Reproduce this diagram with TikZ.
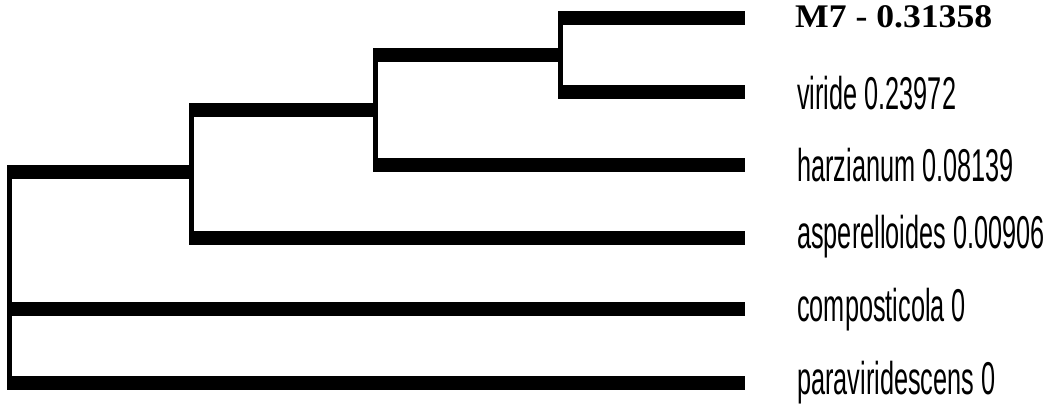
\documentclass[tikz,border=0pt]{standalone}
\usepackage{fontspec}
\usetikzlibrary{calc}
\newfontfamily\condfont[FakeStretch=0.55]{Liberation Sans}
\newfontfamily\wideserif[FakeStretch=1.08]{Liberation Serif}
\tikzset{
  hbar/.style={line width=14pt, line cap=butt, draw=black},
  vbar/.style={line width=5pt, line cap=butt, draw=black},
  lab/.style={anchor=west, inner sep=0pt, font=\condfont\fontsize{46}{48}\selectfont},
  labm/.style={anchor=west, inner sep=0pt, font=\wideserif\bfseries\fontsize{33}{36}\selectfont}
}
\begin{document}
\begin{tikzpicture}[x=1pt, y=-1pt]
\useasboundingbox (0,0) rectangle (1046,412);
% internal nodes (centre of their vertical line)
\coordinate (R) at (9.5,277);
\coordinate (A) at (191.5,172);
\coordinate (B) at (375.5,110);
\coordinate (C) at (560.5,55.25);
% leaf tips
\coordinate (tM7) at (745,18.5);
\coordinate (tvir) at (745,92);
\coordinate (thar) at (745,165);
\coordinate (tasp) at (745,237.5);
\coordinate (tcom) at (745,309);
\coordinate (tpar) at (745,382.5);
% verticals
\draw[vbar] ($(C|-tM7)+(0,-7)$) -- ($(C|-tvir)+(0,7)$);
\draw[vbar] ($(B|-C)+(0,-7)$) -- ($(B|-thar)+(0,7)$);
\draw[vbar] ($(A|-B)+(0,-7)$) -- ($(A|-tasp)+(0,7)$);
\draw[vbar] ($(R|-A)+(0,-7)$) -- ($(R|-tpar)+(0,7)$);
% horizontals
\draw[hbar] ($(C|-tM7)+(-2.5,0)$) -- (tM7);
\draw[hbar] ($(C|-tvir)+(-2.5,0)$) -- (tvir);
\draw[hbar] ($(B|-C)+(-2.5,0)$) -- ($(C)+(2.5,0)$);
\draw[hbar] ($(B|-thar)+(-2.5,0)$) -- (thar);
\draw[hbar] ($(A|-B)+(-2.5,0)$) -- ($(B)+(2.5,0)$);
\draw[hbar] ($(A|-tasp)+(-2.5,0)$) -- (tasp);
\draw[hbar] ($(R|-A)+(-2.5,0)$) -- ($(A)+(2.5,0)$);
\draw[hbar] ($(R|-tcom)+(-2.5,0)$) -- (tcom);
\draw[hbar] ($(R|-tpar)+(-2.5,0)$) -- (tpar);
% labels
\node[labm] (lM7) at (795,17) {M7 - 0.31358};
\node[lab] (lvir) at (797,93) {viride 0.23972};
\node[lab] (lhar) at (797,165) {harzianum 0.08139};
\node[lab] (lasp) at (797,237) {asperelloides 0.00906};
\node[lab] (lcom) at (797,310) {composticola 0};
\node[lab] (lpar) at (797,383) {paraviridescens 0};
\end{tikzpicture}
\end{document}
